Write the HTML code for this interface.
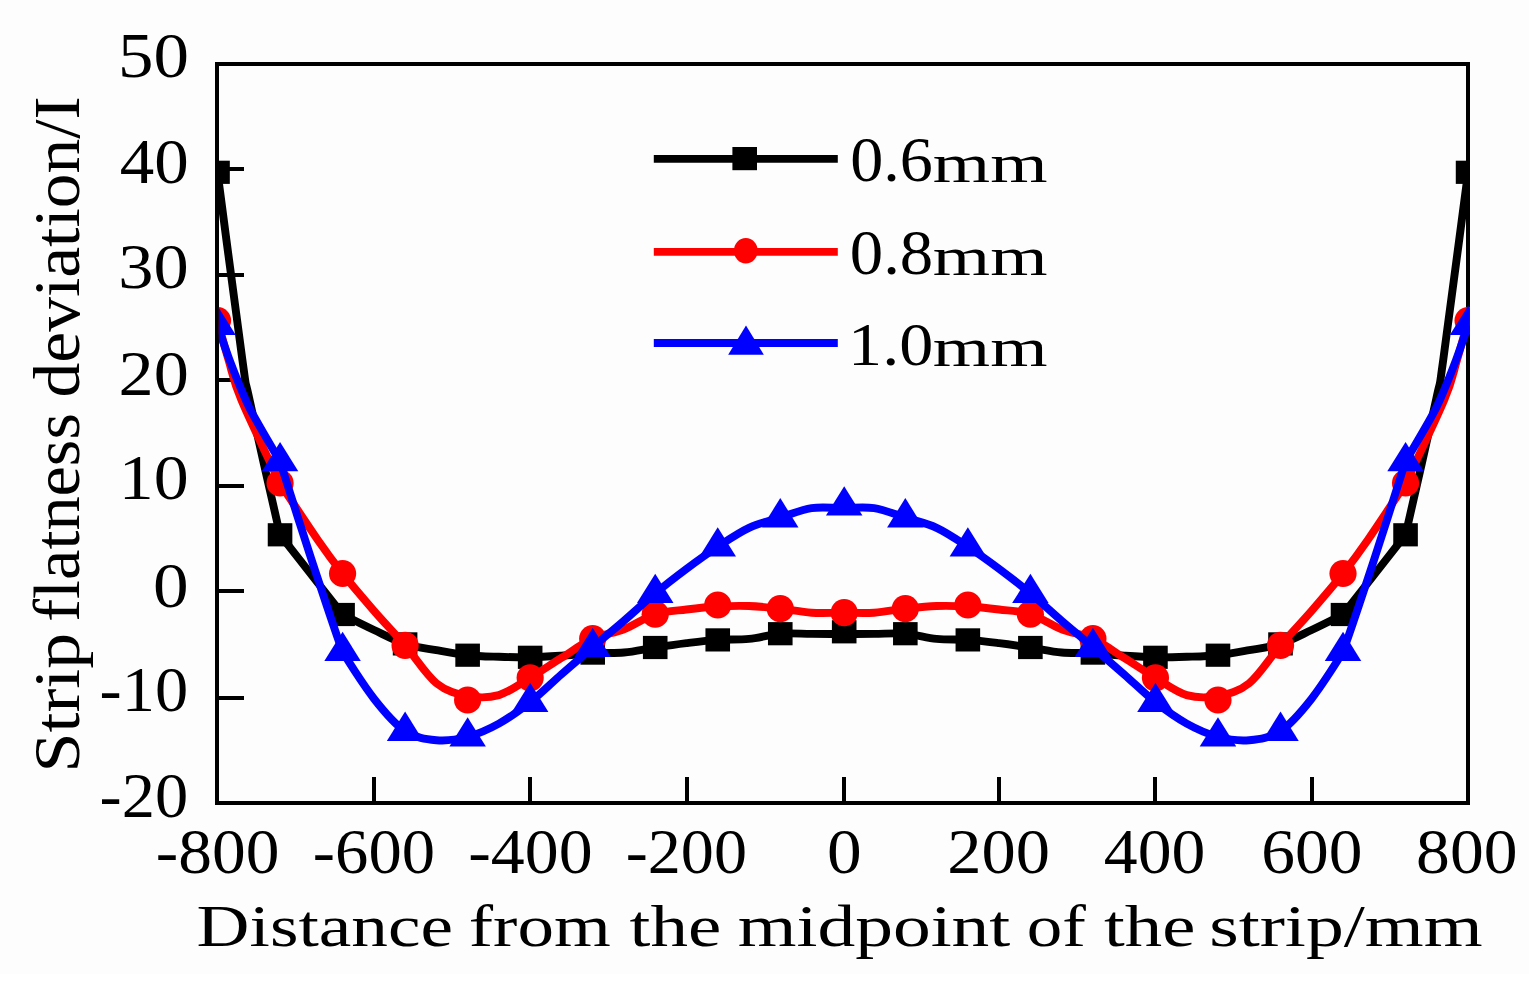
<!DOCTYPE html>
<html><head><meta charset="utf-8"><style>
html,body{margin:0;padding:0;background:#fff;}
svg{display:block;}
text{font-family:"Liberation Serif",serif;font-size:1px;fill:#000;}
</style></head><body>
<svg width="1529" height="993" viewBox="0 0 1529 993">
<defs><clipPath id="pc"><rect x="218.9" y="61.9" width="1250.9" height="742.4"/></clipPath></defs>
<rect width="1529" height="993" fill="#fff"/>
<rect width="1529" height="974" fill="#fdfdfd"/>
<rect shape-rendering="crispEdges" x="216.8" y="63.8" width="1250.80" height="738.70" fill="none" stroke="#000" stroke-width="4"/><line shape-rendering="crispEdges" x1="373.7" y1="802.5" x2="373.7" y2="777.2" stroke="#000" stroke-width="4"/><line shape-rendering="crispEdges" x1="530" y1="802.5" x2="530" y2="777.2" stroke="#000" stroke-width="4"/><line shape-rendering="crispEdges" x1="686.7" y1="802.5" x2="686.7" y2="777.2" stroke="#000" stroke-width="4"/><line shape-rendering="crispEdges" x1="844" y1="802.5" x2="844" y2="777.2" stroke="#000" stroke-width="4"/><line shape-rendering="crispEdges" x1="999.4" y1="802.5" x2="999.4" y2="777.2" stroke="#000" stroke-width="4"/><line shape-rendering="crispEdges" x1="1154.9" y1="802.5" x2="1154.9" y2="777.2" stroke="#000" stroke-width="4"/><line shape-rendering="crispEdges" x1="1312.4" y1="802.5" x2="1312.4" y2="777.2" stroke="#000" stroke-width="4"/><line shape-rendering="crispEdges" x1="216.8" y1="168.5" x2="244.0" y2="168.5" stroke="#000" stroke-width="4"/><line shape-rendering="crispEdges" x1="216.8" y1="274.8" x2="244.0" y2="274.8" stroke="#000" stroke-width="4"/><line shape-rendering="crispEdges" x1="216.8" y1="379.9" x2="244.0" y2="379.9" stroke="#000" stroke-width="4"/><line shape-rendering="crispEdges" x1="216.8" y1="486.3" x2="244.0" y2="486.3" stroke="#000" stroke-width="4"/><line shape-rendering="crispEdges" x1="216.8" y1="591.3" x2="244.0" y2="591.3" stroke="#000" stroke-width="4"/><line shape-rendering="crispEdges" x1="216.8" y1="697.8" x2="244.0" y2="697.8" stroke="#000" stroke-width="4"/>
<g clip-path="url(#pc)"><g><path d="M217.52,172.30C225.81,234.90 237.05,322.13 242.40,360.10C247.75,398.07 243.33,370.98 249.60,400.10C255.87,429.22 280.05,534.80 280.05,534.80C280.05,534.80 300.89,561.37 311.31,574.65C321.73,587.93 342.58,614.50 342.58,614.50C342.58,614.50 363.58,625.10 374.00,630.00C384.42,634.90 394.70,640.53 405.10,643.90C415.50,647.27 425.98,648.32 436.40,650.20C446.82,652.08 457.22,654.10 467.63,655.20C478.05,656.30 488.48,656.45 498.90,656.80C509.32,657.15 519.74,657.48 530.16,657.30C540.58,657.12 550.98,656.40 561.40,655.70C571.82,655.00 582.25,653.63 592.69,653.10C603.12,652.57 613.58,653.43 624.00,652.50C634.42,651.57 644.80,649.05 655.22,647.50C665.63,645.95 676.08,644.47 686.50,643.20C696.92,641.93 707.33,640.62 717.74,639.90C728.16,639.18 738.58,639.93 749.00,638.90C759.42,637.87 769.86,634.53 780.27,633.70C790.69,632.87 801.08,633.85 811.50,633.90C821.92,633.95 832.37,634.00 842.80,634.00C853.23,634.00 863.68,633.95 874.10,633.90C884.52,633.85 894.91,632.87 905.33,633.70C915.74,634.53 926.18,637.87 936.60,638.90C947.02,639.93 957.44,639.18 967.86,639.90C978.27,640.62 988.68,641.93 999.10,643.20C1009.52,644.47 1019.97,645.95 1030.38,647.50C1040.80,649.05 1051.18,651.57 1061.60,652.50C1072.02,653.43 1082.48,652.57 1092.91,653.10C1103.35,653.63 1113.78,655.00 1124.20,655.70C1134.62,656.40 1145.02,657.12 1155.44,657.30C1165.86,657.48 1176.28,657.15 1186.70,656.80C1197.12,656.45 1207.55,656.30 1217.97,655.20C1228.38,654.10 1238.78,652.08 1249.20,650.20C1259.62,648.32 1270.10,647.27 1280.50,643.90C1290.90,640.53 1301.18,634.90 1311.60,630.00C1322.02,625.10 1343.02,614.50 1343.02,614.50C1343.02,614.50 1363.87,587.93 1374.29,574.65C1384.71,561.37 1405.55,534.80 1405.55,534.80C1405.55,534.80 1429.73,429.22 1436.00,400.10C1442.27,370.98 1437.85,398.07 1443.20,360.10C1448.55,322.13 1459.79,234.90 1468.08,172.30" fill="none" stroke="#000" stroke-width="7.9" stroke-linejoin="round"/><rect x="205.22" y="160.70" width="24.6" height="23.2" fill="#000"/><rect x="267.75" y="523.20" width="24.6" height="23.2" fill="#000"/><rect x="330.28" y="602.90" width="24.6" height="23.2" fill="#000"/><rect x="392.80" y="632.30" width="24.6" height="23.2" fill="#000"/><rect x="455.33" y="643.60" width="24.6" height="23.2" fill="#000"/><rect x="517.86" y="645.70" width="24.6" height="23.2" fill="#000"/><rect x="580.39" y="641.50" width="24.6" height="23.2" fill="#000"/><rect x="642.92" y="635.90" width="24.6" height="23.2" fill="#000"/><rect x="705.44" y="628.30" width="24.6" height="23.2" fill="#000"/><rect x="767.97" y="622.10" width="24.6" height="23.2" fill="#000"/><rect x="831.90" y="620.20" width="24.6" height="23.2" fill="#000"/><rect x="893.03" y="622.10" width="24.6" height="23.2" fill="#000"/><rect x="955.56" y="628.30" width="24.6" height="23.2" fill="#000"/><rect x="1018.08" y="635.90" width="24.6" height="23.2" fill="#000"/><rect x="1080.61" y="641.50" width="24.6" height="23.2" fill="#000"/><rect x="1143.14" y="645.70" width="24.6" height="23.2" fill="#000"/><rect x="1205.67" y="643.60" width="24.6" height="23.2" fill="#000"/><rect x="1268.20" y="632.30" width="24.6" height="23.2" fill="#000"/><rect x="1330.72" y="602.90" width="24.6" height="23.2" fill="#000"/><rect x="1393.25" y="523.20" width="24.6" height="23.2" fill="#000"/><rect x="1455.78" y="160.70" width="24.6" height="23.2" fill="#000"/></g><g><path d="M217.52,320.50C221.21,333.70 224.62,346.83 228.60,360.10C232.58,373.37 232.83,379.62 241.40,400.10C249.97,420.58 278.13,479.50 280.05,483.00C281.96,486.50 307.58,525.12 318.00,540.20C328.42,555.28 341.18,571.74 342.58,573.50C343.98,575.26 363.58,598.82 374.00,610.80C384.42,622.78 394.70,633.33 405.10,645.40C415.50,657.47 425.98,674.77 436.40,683.20C446.82,691.63 457.22,694.02 467.63,696.00C478.05,697.98 488.48,698.13 498.90,695.10C509.32,692.07 519.74,684.00 530.16,677.80C540.58,671.60 550.98,664.42 561.40,657.90C571.82,651.38 582.25,643.48 592.69,638.70C603.12,633.92 613.58,633.28 624.00,629.20C634.42,625.12 644.80,617.48 655.22,614.20C665.63,610.92 676.08,610.78 686.50,609.50C696.92,608.22 707.33,607.08 717.74,606.50C728.16,605.92 738.58,605.63 749.00,606.00C759.42,606.37 769.86,607.58 780.27,608.70C790.69,609.82 801.08,612.03 811.50,612.70C821.92,613.37 832.37,612.70 842.80,612.70C853.23,612.70 863.68,613.37 874.10,612.70C884.52,612.03 894.91,609.82 905.33,608.70C915.74,607.58 926.18,606.37 936.60,606.00C947.02,605.63 957.44,605.92 967.86,606.50C978.27,607.08 988.68,608.22 999.10,609.50C1009.52,610.78 1019.97,610.92 1030.38,614.20C1040.80,617.48 1051.18,625.12 1061.60,629.20C1072.02,633.28 1082.48,633.92 1092.91,638.70C1103.35,643.48 1113.78,651.38 1124.20,657.90C1134.62,664.42 1145.02,671.60 1155.44,677.80C1165.86,684.00 1176.28,692.07 1186.70,695.10C1197.12,698.13 1207.55,697.98 1217.97,696.00C1228.38,694.02 1238.78,691.63 1249.20,683.20C1259.62,674.77 1270.10,657.47 1280.50,645.40C1290.90,633.33 1301.18,622.78 1311.60,610.80C1322.02,598.82 1341.62,575.26 1343.02,573.50C1344.42,571.74 1357.18,555.28 1367.60,540.20C1378.02,525.12 1403.64,486.50 1405.55,483.00C1407.47,479.50 1435.63,420.58 1444.20,400.10C1452.77,379.62 1453.02,373.37 1457.00,360.10C1460.98,346.83 1464.39,333.70 1468.08,320.50" fill="none" stroke="#ff0000" stroke-width="7.9" stroke-linejoin="round"/><circle cx="217.52" cy="320.50" r="13.6" fill="#ff0000"/><circle cx="280.05" cy="483.00" r="13.6" fill="#ff0000"/><circle cx="342.58" cy="573.50" r="13.6" fill="#ff0000"/><circle cx="405.10" cy="645.40" r="13.6" fill="#ff0000"/><circle cx="467.63" cy="700.00" r="13.6" fill="#ff0000"/><circle cx="530.16" cy="677.80" r="13.6" fill="#ff0000"/><circle cx="592.69" cy="638.70" r="13.6" fill="#ff0000"/><circle cx="655.22" cy="614.20" r="13.6" fill="#ff0000"/><circle cx="717.74" cy="605.00" r="13.6" fill="#ff0000"/><circle cx="780.27" cy="608.70" r="13.6" fill="#ff0000"/><circle cx="844.20" cy="612.70" r="13.6" fill="#ff0000"/><circle cx="905.33" cy="608.70" r="13.6" fill="#ff0000"/><circle cx="967.86" cy="605.00" r="13.6" fill="#ff0000"/><circle cx="1030.38" cy="614.20" r="13.6" fill="#ff0000"/><circle cx="1092.91" cy="638.70" r="13.6" fill="#ff0000"/><circle cx="1155.44" cy="677.80" r="13.6" fill="#ff0000"/><circle cx="1217.97" cy="700.00" r="13.6" fill="#ff0000"/><circle cx="1280.50" cy="645.40" r="13.6" fill="#ff0000"/><circle cx="1343.02" cy="573.50" r="13.6" fill="#ff0000"/><circle cx="1405.55" cy="483.00" r="13.6" fill="#ff0000"/><circle cx="1468.08" cy="320.50" r="13.6" fill="#ff0000"/></g><g><path d="M217.52,325.30C221.55,336.90 224.89,347.63 229.60,360.10C234.31,372.57 241.40,390.12 245.80,400.10C250.20,410.08 250.29,409.78 256.00,420.00C261.71,430.22 280.05,461.40 280.05,461.40C280.05,461.40 301.28,528.67 311.70,560.30C322.12,591.93 340.50,646.59 342.58,651.20C344.65,655.81 363.58,685.38 374.00,698.70C384.42,712.02 394.70,724.18 405.10,731.10C415.50,738.02 425.98,739.25 436.40,740.20C446.82,741.15 457.22,739.57 467.63,736.80C478.05,734.03 488.48,729.37 498.90,723.60C509.32,717.83 519.74,710.40 530.16,702.20C540.58,694.00 550.98,683.57 561.40,674.40C571.82,665.23 582.25,656.15 592.69,647.20C603.12,638.25 613.58,629.68 624.00,620.70C634.42,611.72 644.80,601.95 655.22,593.30C665.63,584.65 676.08,576.57 686.50,568.80C696.92,561.03 707.33,553.53 717.74,546.70C728.16,539.87 738.58,532.65 749.00,527.80C759.42,522.95 769.86,520.88 780.27,517.60C790.69,514.32 801.08,509.70 811.50,508.10C821.92,506.50 832.37,508.00 842.80,508.00C853.23,508.00 863.68,506.50 874.10,508.10C884.52,509.70 894.91,514.32 905.33,517.60C915.74,520.88 926.18,522.95 936.60,527.80C947.02,532.65 957.44,539.87 967.86,546.70C978.27,553.53 988.68,561.03 999.10,568.80C1009.52,576.57 1019.97,584.65 1030.38,593.30C1040.80,601.95 1051.18,611.72 1061.60,620.70C1072.02,629.68 1082.48,638.25 1092.91,647.20C1103.35,656.15 1113.78,665.23 1124.20,674.40C1134.62,683.57 1145.02,694.00 1155.44,702.20C1165.86,710.40 1176.28,717.83 1186.70,723.60C1197.12,729.37 1207.55,734.03 1217.97,736.80C1228.38,739.57 1238.78,741.15 1249.20,740.20C1259.62,739.25 1270.10,738.02 1280.50,731.10C1290.90,724.18 1301.18,712.02 1311.60,698.70C1322.02,685.38 1340.95,655.81 1343.02,651.20C1345.10,646.59 1363.48,591.93 1373.90,560.30C1384.32,528.67 1405.55,461.40 1405.55,461.40C1405.55,461.40 1423.89,430.22 1429.60,420.00C1435.31,409.78 1435.40,410.08 1439.80,400.10C1444.20,390.12 1451.29,372.57 1456.00,360.10C1460.71,347.63 1464.05,336.90 1468.08,325.30" fill="none" stroke="#0000ff" stroke-width="7.9" stroke-linejoin="round"/><path d="M217.52,305.80L235.77,335.10L199.27,335.10Z" fill="#0000ff"/><path d="M280.05,441.90L298.30,471.20L261.80,471.20Z" fill="#0000ff"/><path d="M342.58,631.70L360.83,661.00L324.33,661.00Z" fill="#0000ff"/><path d="M405.10,711.60L423.35,740.90L386.85,740.90Z" fill="#0000ff"/><path d="M467.63,717.30L485.88,746.60L449.38,746.60Z" fill="#0000ff"/><path d="M530.16,682.70L548.41,712.00L511.91,712.00Z" fill="#0000ff"/><path d="M592.69,627.70L610.94,657.00L574.44,657.00Z" fill="#0000ff"/><path d="M655.22,573.80L673.47,603.10L636.97,603.10Z" fill="#0000ff"/><path d="M717.74,527.20L735.99,556.50L699.49,556.50Z" fill="#0000ff"/><path d="M780.27,498.10L798.52,527.40L762.02,527.40Z" fill="#0000ff"/><path d="M844.20,486.30L862.45,515.60L825.95,515.60Z" fill="#0000ff"/><path d="M905.33,498.10L923.58,527.40L887.08,527.40Z" fill="#0000ff"/><path d="M967.86,527.20L986.11,556.50L949.61,556.50Z" fill="#0000ff"/><path d="M1030.38,573.80L1048.63,603.10L1012.13,603.10Z" fill="#0000ff"/><path d="M1092.91,627.70L1111.16,657.00L1074.66,657.00Z" fill="#0000ff"/><path d="M1155.44,682.70L1173.69,712.00L1137.19,712.00Z" fill="#0000ff"/><path d="M1217.97,717.30L1236.22,746.60L1199.72,746.60Z" fill="#0000ff"/><path d="M1280.50,711.60L1298.75,740.90L1262.25,740.90Z" fill="#0000ff"/><path d="M1343.02,631.70L1361.27,661.00L1324.77,661.00Z" fill="#0000ff"/><path d="M1405.55,441.90L1423.80,471.20L1387.30,471.20Z" fill="#0000ff"/><path d="M1468.08,305.80L1486.33,335.10L1449.83,335.10Z" fill="#0000ff"/></g></g>
<line x1="653.8" y1="158.9" x2="837.8" y2="158.9" stroke="#000" stroke-width="7.9"/><rect x="732.40" y="147.00" width="24.6" height="23.2" fill="#000"/><text transform="matrix(66.085,0,0,62.956,850.18,181.06)">0.6</text><text transform="matrix(73.684,0,0,55.532,932.83,181.50)">mm</text><line x1="653.8" y1="251.9" x2="837.8" y2="251.9" stroke="#ff0000" stroke-width="7.9"/><ellipse cx="745.8" cy="250.8" rx="11.9" ry="12.8" fill="#ff0000"/><text transform="matrix(66.799,0,0,62.956,849.75,274.26)">0.8</text><text transform="matrix(73.684,0,0,55.532,932.83,274.70)">mm</text><line x1="653.8" y1="343" x2="837.8" y2="343" stroke="#0000ff" stroke-width="7.9"/><path d="M746.00,325.40L763.85,354.80L728.15,354.80Z" fill="#0000ff"/><text transform="matrix(68.166,0,0,62.217,848.09,365.17)">1.0</text><text transform="matrix(73.684,0,0,55.532,932.83,365.60)">mm</text>
<text transform="matrix(67.457,0,0,62.376,155.73,873.38)">-800</text><text transform="matrix(66.660,0,0,62.376,312.86,873.38)">-600</text><text transform="matrix(67.856,0,0,62.376,468.21,873.38)">-400</text><text transform="matrix(66.205,0,0,62.376,625.67,873.38)">-200</text><text transform="matrix(69.375,0,0,62.376,827.06,873.38)">0</text><text transform="matrix(68.521,0,0,62.376,947.23,873.38)">200</text><text transform="matrix(67.691,0,0,62.376,1103.85,873.38)">400</text><text transform="matrix(67.465,0,0,62.376,1261.28,873.38)">600</text><text transform="matrix(67.570,0,0,62.376,1416.12,873.38)">800</text><text transform="matrix(71.029,0,0,63.119,117.88,76.57)">50</text><text transform="matrix(69.011,0,0,62.673,119.72,183.07)">40</text><text transform="matrix(70.473,0,0,62.525,118.31,288.37)">30</text><text transform="matrix(70.217,0,0,62.525,118.56,394.97)">20</text><text transform="matrix(69.924,0,0,62.673,118.84,499.27)">10</text><text transform="matrix(71.250,0,0,63.119,152.89,606.57)">0</text><text transform="matrix(66.446,0,0,63.713,99.56,710.86)">-10</text><text transform="matrix(66.446,0,0,62.970,99.56,817.17)">-20</text><text transform="matrix(73.282,0,0,60.000,196.60,946.20)">Distance</text><text transform="matrix(72.970,0,0,60.000,468.81,946.20)">from</text><text transform="matrix(75.042,0,0,60.000,629.55,946.20)">the</text><text transform="matrix(75.502,0,0,60.000,737.69,946.20)">midpoint</text><text transform="matrix(70.921,0,0,60.000,1026.80,946.20)">of</text><text transform="matrix(74.703,0,0,60.000,1104.05,946.20)">the</text><text transform="matrix(75.717,0,0,60.000,1209.17,946.20)">strip/mm</text><text transform="matrix(0,-71.685,65.000,0,79.40,772.38)">Strip</text><text transform="matrix(0,-68.328,65.000,0,79.40,621.65)">flatness</text><text transform="matrix(0,-69.531,65.000,0,79.40,397.45)">deviation/I</text>
</svg>
</body></html>
